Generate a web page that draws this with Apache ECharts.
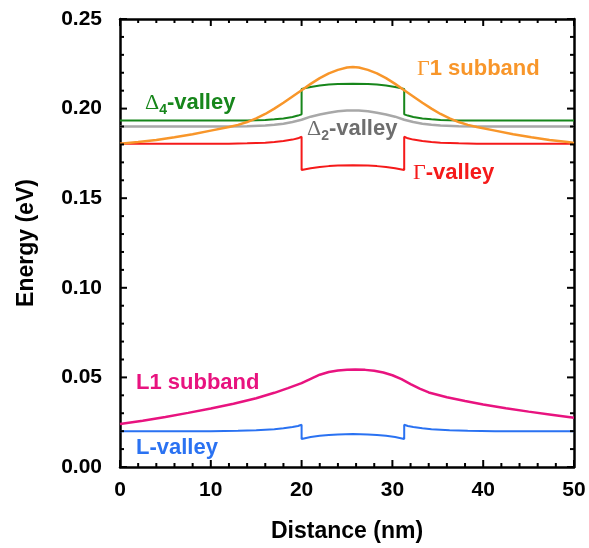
<!DOCTYPE html>
<html>
<head>
<meta charset="utf-8">
<script src="https://cdn.jsdelivr.net/npm/echarts@6/dist/echarts.min.js"></script>
<style>
  html, body { margin: 0; padding: 0; background: #fff; }
  #chart { width: 589px; height: 548px; }
</style>
</head>
<body>
<div id="chart"></div>
<script>
// x in nm, energy in eV
const xTicks = [0, 10, 20, 30, 40, 50]
const yTicks = [0.00, 0.05, 0.10, 0.15, 0.20, 0.25]
const xMinorStep = 2
const yMinorStep = 0.01

const gamma1X = [0, 2, 4, 6, 8, 10, 12, 13, 14, 15, 16, 17, 18, 19, 20, 21, 22, 23, 24, 25, 25.65,
  26.3, 27.3, 28.3, 29.3, 30.3, 31.3, 32.3, 33.3, 34.3, 35.3, 36.3, 37.3, 38.3, 39.3, 41.3, 43.3, 45.3, 47.3, 49.3, 50]
const gamma1Y = [0.1804, 0.1813, 0.1825, 0.1840, 0.1857, 0.1877, 0.1897, 0.1909, 0.1925, 0.1945, 0.1970, 0.2000, 0.2033, 0.2068, 0.2102, 0.2138, 0.2170, 0.2197, 0.2216, 0.2229, 0.2232,
  0.2229, 0.2216, 0.2197, 0.2170, 0.2138, 0.2102, 0.2068, 0.2033, 0.2000, 0.1970, 0.1945, 0.1925, 0.1909, 0.1897, 0.1877, 0.1857, 0.1840, 0.1825, 0.1813, 0.1808]

const delta4X = [0, 12, 14, 16, 17, 18, 19, 19.6, 20, 20, 21, 22, 23, 24, 25.65, 27.3, 28.3, 29.3, 30.3, 31.3, 31.3, 31.7, 32.3, 33.3, 34.3, 35.3, 37.3, 39.3, 50]
const delta4Y = [0.1933, 0.1933, 0.1934, 0.1937, 0.1940, 0.1945, 0.1953, 0.1961, 0.1968, 0.2110, 0.2121, 0.2129, 0.2134, 0.2137, 0.2138, 0.2137, 0.2134, 0.2129, 0.2121, 0.2110, 0.1968, 0.1961, 0.1953, 0.1945, 0.1940, 0.1937, 0.1934, 0.1933, 0.1933]

const delta2X = [0, 12, 14, 16, 17, 18, 19, 20, 21, 22, 23, 24, 25, 25.65, 26.3, 27.3, 28.3, 29.3, 30.3, 31.3, 32.3, 33.3, 34.3, 35.3, 37.3, 39.3, 50]
const delta2Y = [0.1900, 0.1900, 0.1902, 0.1906, 0.1910, 0.1916, 0.1925, 0.1938, 0.1955, 0.1967, 0.1977, 0.1985, 0.1989, 0.1990, 0.1989, 0.1985, 0.1977, 0.1967, 0.1955, 0.1938, 0.1925, 0.1916, 0.1910, 0.1906, 0.1902, 0.1900, 0.1900]

const gammaX = [0, 12, 14, 16, 17, 18, 19, 19.6, 20, 20, 21, 22, 23, 24, 25.65, 27.3, 28.3, 29.3, 30.3, 31.3, 31.3, 31.7, 32.3, 33.3, 34.3, 35.3, 37.3, 39.3, 50]
const gammaY = [0.1804, 0.1804, 0.1806, 0.1810, 0.1814, 0.1819, 0.1827, 0.1834, 0.1843, 0.1657, 0.1667, 0.1674, 0.1679, 0.1682, 0.1684, 0.1682, 0.1679, 0.1674, 0.1667, 0.1657, 0.1843, 0.1834, 0.1827, 0.1819, 0.1814, 0.1810, 0.1806, 0.1804, 0.1804]

const l1X = [0, 2.5, 5, 7.5, 10, 12.5, 15, 17, 18.5, 20, 21, 22, 23, 24, 25, 25.9, 27, 28, 29, 30, 31, 32, 33, 34, 36, 38, 40, 42.5, 45, 47.5, 50]
const l1Y = [0.0240, 0.0258, 0.0279, 0.0302, 0.0327, 0.0353, 0.0384, 0.0414, 0.0440, 0.0468, 0.0492, 0.0515, 0.0530, 0.0539, 0.0543, 0.0544, 0.0542, 0.0537, 0.0527, 0.0512, 0.0490, 0.0463, 0.0437, 0.0416, 0.0389, 0.0368, 0.0349, 0.0328, 0.0309, 0.0292, 0.0275]

const lX = [0, 10, 13, 15, 17, 18, 19, 19.6, 20, 20, 21, 22, 23, 24, 25.65, 27.3, 28.3, 29.3, 30.3, 31.3, 31.3, 31.7, 32.3, 33.3, 34.3, 36.3, 38.3, 41.3, 50]
const lY = [0.0200, 0.0200, 0.0202, 0.0205, 0.0211, 0.0216, 0.0223, 0.0229, 0.0236, 0.0156, 0.0167, 0.0174, 0.0179, 0.0182, 0.0184, 0.0182, 0.0179, 0.0174, 0.0167, 0.0156, 0.0236, 0.0229, 0.0223, 0.0216, 0.0211, 0.0205, 0.0202, 0.0200, 0.0200]

const FONT = 'Liberation Sans, Arial, sans-serif'
const SERIF = 'Liberation Serif, Times New Roman, serif'
const X_MIN = 0, X_MAX = 50, Y_MIN = 0, Y_MAX = 0.25

function pairs(xs, ys) {
  return xs.map((x, i) => [x, ys[i]])
}

function lineSeries(name, xs, ys, color, width) {
  return {
    name: name,
    type: 'line',
    data: pairs(xs, ys),
    showSymbol: false,
    symbol: 'none',
    lineStyle: { color: color, width: width || 2 },
    animation: false
  }
}

// [value, length] for every tick, major ones taken from the label arrays
function tickList(major, step, min, max) {
  const out = major.map(v => [v, 7])
  const n = Math.round((max - min) / step)
  for (let i = 0; i <= n; i++) {
    const v = min + i * step
    if (!major.some(m => Math.abs(m - v) < step / 10)) out.push([v, 4])
  }
  return out
}

function tickLine(x1, y1, x2, y2) {
  return {
    type: 'line',
    z: 1000,
    silent: true,
    shape: { x1: x1, y1: y1, x2: x2, y2: y2 },
    style: { stroke: '#000', lineWidth: 2 }
  }
}

// inward ticks on all four sides, placed with the chart's own scales
function buildTicks(chart) {
  const toPx = p => chart.convertToPixel({ gridIndex: 0 }, p)
  const lines = []
  tickList(xTicks, xMinorStep, X_MIN, X_MAX).forEach(([v, len]) => {
    const b = toPx([v, Y_MIN])
    const t = toPx([v, Y_MAX])
    lines.push(tickLine(b[0], b[1], b[0], b[1] - len))
    lines.push(tickLine(t[0], t[1], t[0], t[1] + len))
  })
  tickList(yTicks, yMinorStep, Y_MIN, Y_MAX).forEach(([v, len]) => {
    const l = toPx([X_MIN, v])
    const r = toPx([X_MAX, v])
    lines.push(tickLine(l[0], l[1], l[0] + len, l[1]))
    lines.push(tickLine(r[0], r[1], r[0] - len, r[1]))
  })
  return lines
}

function axisCommon() {
  return {
    type: 'value',
    axisLine: { show: true, onZero: false, lineStyle: { color: '#000', width: 2.5 } },
    axisTick: { show: false },
    minorTick: { show: false },
    splitLine: { show: false }
  }
}

function label(text, x, y, rich) {
  return {
    type: 'text',
    x: x,
    y: y,
    z: 100,
    style: {
      text: text,
      rich: rich,
      verticalAlign: 'middle',
      align: 'left'
    }
  }
}

function valleyRich(color) {
  return {
    d: { fontFamily: SERIF, fontSize: 22, lineHeight: 22, verticalAlign: 'top', fill: color, fontWeight: 'normal' },
    s: { fontFamily: FONT, fontSize: 14, lineHeight: 14, padding: [11, 0, 0, 0], verticalAlign: 'top', fill: color, fontWeight: 'bold' },
    t: { fontFamily: FONT, fontSize: 22, lineHeight: 22, verticalAlign: 'top', fill: color, fontWeight: 'bold' }
  }
}

function getLabels() {
  return [
    label('{g|Γ}{t|1 subband}', 417, 69, {
      g: { fontFamily: SERIF, fontSize: 22, fill: '#f8962a' },
      t: { fontFamily: FONT, fontSize: 22, fontWeight: 'bold', fill: '#f8962a' }
    }),
    label('{d|Δ}{s|4}{t|-valley}', 145, 103, valleyRich('#17861b')),
    label('{d|Δ}{s|2}{t|-valley}', 307, 129, valleyRich('#6e6e6e')),
    label('{g|Γ}{t|-valley}', 413, 173, {
      g: { fontFamily: SERIF, fontSize: 22, fill: '#f51a1a' },
      t: { fontFamily: FONT, fontSize: 22, fontWeight: 'bold', fill: '#f51a1a' }
    }),
    label('{t|L1 subband}', 136, 383, {
      t: { fontFamily: FONT, fontSize: 22, fontWeight: 'bold', fill: '#e8137f' }
    }),
    label('{t|L-valley}', 136, 448, {
      t: { fontFamily: FONT, fontSize: 22, fontWeight: 'bold', fill: '#2a72f2' }
    })
  ]
}

function getOptions() {
  const x0 = axisCommon()
  const x1 = axisCommon()
  const y0 = axisCommon()
  const y1 = axisCommon()
  Object.assign(x0, {
    min: X_MIN, max: X_MAX, interval: 10,
    name: 'Distance (nm)', nameLocation: 'middle', nameGap: 53,
    nameTextStyle: { fontFamily: FONT, fontSize: 23, fontWeight: 'bold', color: '#000' },
    axisLabel: { fontFamily: FONT, fontSize: 21, fontWeight: 'bold', color: '#000', margin: 13,
      formatter: v => xTicks.indexOf(v) >= 0 ? String(v) : '' }
  })
  Object.assign(x1, { min: X_MIN, max: X_MAX, interval: 10, position: 'top', axisLabel: { show: false } })
  Object.assign(y0, {
    min: Y_MIN, max: Y_MAX, interval: 0.05,
    name: 'Energy (eV)', nameLocation: 'middle', nameGap: 82,
    nameTextStyle: { fontFamily: FONT, fontSize: 23, fontWeight: 'bold', color: '#000' },
    axisLabel: { fontFamily: FONT, fontSize: 21, fontWeight: 'bold', color: '#000', margin: 18,
      formatter: v => yTicks.some(t => Math.abs(t - v) < 1e-9) ? v.toFixed(2) : '' }
  })
  Object.assign(y1, { min: Y_MIN, max: Y_MAX, interval: 0.05, position: 'right', axisLabel: { show: false } })

  return {
    backgroundColor: '#fff',
    animation: false,
    grid: { left: 120, top: 19, width: 454, height: 450 },
    xAxis: [x0, x1],
    yAxis: [y0, y1],
    series: [
      lineSeries('L-valley', lX, lY, '#2a72f2'),
      lineSeries('L1 subband', l1X, l1Y, '#e8137f', 2.5),
      lineSeries('Gamma-valley', gammaX, gammaY, '#f51a1a'),
      lineSeries('Delta2-valley', delta2X, delta2Y, '#a8a8a8', 2.5),
      lineSeries('Delta4-valley', delta4X, delta4Y, '#17861b'),
      lineSeries('Gamma1 subband', gamma1X, gamma1Y, '#f8962a', 2.5)
    ]
  }
}

const myChart = echarts.init(document.getElementById('chart'))
myChart.setOption(getOptions())
myChart.setOption({ graphic: getLabels().concat(buildTicks(myChart)) })
</script>
</body>
</html>
